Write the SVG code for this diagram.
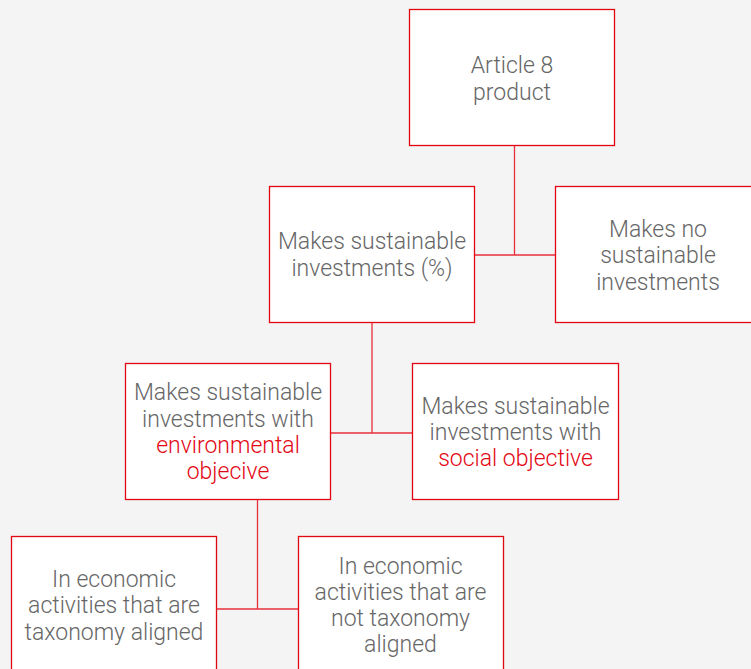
<svg xmlns="http://www.w3.org/2000/svg" width="751" height="669" viewBox="0 0 751 669">
<style>
.box{fill:#ffffff;stroke:#e30613;stroke-width:1.3}
.t{font-family:Roboto,"Liberation Sans",sans-serif;font-weight:300;font-size:23px;fill:#666666;text-anchor:middle}
.r{fill:#e30613}
.c{fill:none;stroke:#e8303b;stroke-width:1.3}
</style>
<rect width="751" height="669" fill="#f4f4f4"/>
<g id="connectors">
<path class="c" d="M514.5 145V255M474 255H555"/>
<path class="c" d="M372 322V433M331 433H413"/>
<path class="c" d="M257.5 499V609M217 609H298"/>
</g>
<g id="article8">
<rect class="box" x="409.5" y="9.5" width="205" height="136"/>
<text class="t" x="512" y="73">Article 8</text>
<text class="t" x="512" y="99.5">product</text>
</g>
<g id="makes-sustainable">
<rect class="box" x="269.5" y="186.5" width="205" height="136"/>
<text class="t" x="372" y="249">Makes sustainable</text>
<text class="t" x="372" y="276">investments (%)</text>
</g>
<g id="makes-no">
<rect class="box" x="555.5" y="186.5" width="205" height="136"/>
<text class="t" x="658" y="237">Makes no</text>
<text class="t" x="658" y="263">sustainable</text>
<text class="t" x="658" y="289.5">investments</text>
</g>
<g id="environmental">
<rect class="box" x="125.5" y="363.5" width="205" height="136"/>
<text class="t" x="228" y="400">Makes sustainable</text>
<text class="t" x="228" y="426.5">investments with</text>
<text class="t r" x="228" y="453">environmental</text>
<text class="t r" x="228" y="479">objecive</text>
</g>
<g id="social">
<rect class="box" x="412.5" y="363.5" width="206" height="136"/>
<text class="t" x="515.5" y="413.5">Makes sustainable</text>
<text class="t" x="515.5" y="439.5">investments with</text>
<text class="t r" x="515.5" y="466">social objective</text>
</g>
<g id="taxonomy-aligned">
<rect class="box" x="11.5" y="536.5" width="205" height="140"/>
<text class="t" x="114" y="587">In economic</text>
<text class="t" x="114" y="613">activities that are</text>
<text class="t" x="114" y="639.5">taxonomy aligned</text>
</g>
<g id="not-taxonomy-aligned">
<rect class="box" x="298.5" y="536.5" width="205" height="140"/>
<text class="t" x="400.5" y="573.5">In economic</text>
<text class="t" x="400.5" y="599.5">activities that are</text>
<text class="t" x="400.5" y="625.5">not taxonomy</text>
<text class="t" x="400.5" y="652">aligned</text>
</g>
</svg>
